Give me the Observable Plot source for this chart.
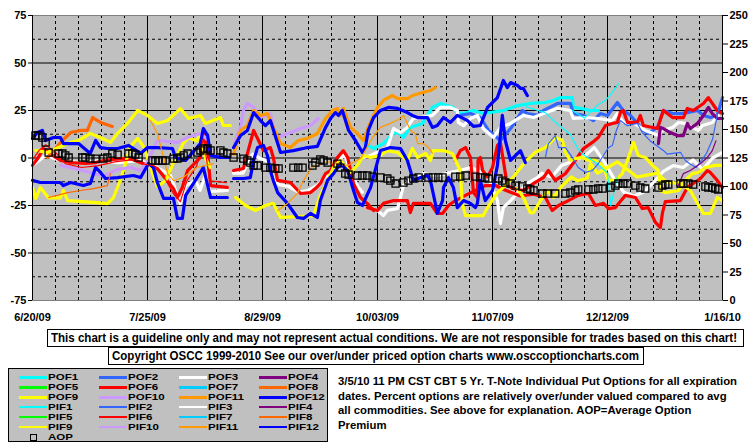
<!DOCTYPE html>
<html><head><meta charset="utf-8">
<script src="https://cdn.jsdelivr.net/npm/d3@7"></script>
<script src="https://cdn.jsdelivr.net/npm/@observablehq/plot@0.6"></script>
<style>
body{margin:0;background:#fff;}
#wrap{position:relative;width:755px;height:446px;overflow:hidden;font-family:"Liberation Sans",Arial,sans-serif;font-weight:bold;color:#000;}
#chart{position:absolute;left:0;top:0;}
.box{position:absolute;border:1px solid #000;background:#fff;box-sizing:border-box;white-space:nowrap;}
.fit{position:absolute;display:inline-block;transform-origin:0 50%;white-space:nowrap;font-size:12px;line-height:14px;}
#legend{position:absolute;left:8px;top:368px;width:320px;height:74px;background:#C0C0C0;border:1px solid #000;box-sizing:border-box;}
.sw{position:absolute;}
.lt{position:absolute;font-size:11px;line-height:12px;height:12px;transform:scale(1.05,0.78);transform-origin:0 50%;white-space:nowrap;}
</style></head>
<body>
<div id="wrap">
  <div id="chart"></div>
  <div class="box" style="left:47px;top:329px;width:697px;height:18px;"><span class="fit" data-w="686" style="left:3px;top:1px;" id="disc"></span></div>
  <div class="box" style="left:108px;top:347px;width:536px;height:18px;"><span class="fit" data-w="527" style="left:3px;top:1px;" id="copy"></span></div>
  <div id="legend"></div>
  <div id="notes"></div>
</div>
<script>
// ---------- text ----------
const disclaimer = "This chart is a guideline only and may not represent actual conditions. We are not responsible for trades based on this chart!";
const copyright = "Copyright OSCC 1999-2010 See our over/under priced option charts www.osccoptioncharts.com";
const noteLines = [
  "3/5/10 11 PM CST CBT 5 Yr. T-Note Individual Put Options for all expiration",
  "dates. Percent options are relatively over/under valued compared to avg",
  "all commodities. See above for explanation. AOP=Average Option",
  "Premium"
];

// ---------- axes ----------
const xTickLabels = ["6/20/09","7/25/09","8/29/09","10/03/09","11/07/09","12/12/09","1/16/10"];
const xTickDates = ["2009-06-20","2009-07-25","2009-08-29","2009-10-03","2009-11-07","2009-12-12","2010-01-16"];
const leftTicks = [75,50,25,0,-25,-50,-75];
const leftTickLabels = ["75","50","25","0","-25","-50","-75"];
const rightTicks = [250,225,200,175,150,125,100,75,50,25,0];

// ---------- legend ----------
const seriesKeys = ["POF1","POF2","POF3","POF4","POF5","POF6","POF7","POF8","POF9","POF10","POF11","POF12",
                    "PIF1","PIF2","PIF3","PIF4","PIF5","PIF6","PIF7","PIF8","PIF9","PIF10","PIF11","PIF12"];
const seriesColors = ["#00FFFF","#3366FF","#FFFFFF","#800080","#00FF00","#FF0000","#00CCFF","#FF6600","#FFFF00","#CC99FF","#FF9900","#0000FF"];

// ---------- data: [day since 6/20/09, % over/under] ----------
const pof12A = [[0,10.3],[1.5,13.4],[3,14.5],[4,9.2],[6.4,10.8],[8.5,10.8],[9.4,7.6],[14,7.6],[17.6,2.4],[19.2,9.2],[20.7,5.5],[22.8,5],[25.9,5],[29.2,6.6],[30.7,5],[32.9,2.4],[35,5.5],[38,5.5],[42.6,5],[43.5,0.3],[46.6,-1.3],[48.7,2.9],[51.1,7.6],[52,15.5],[53.3,11.8],[54.2,1.3],[57.2,0.3],[59.6,0.3]];
const pof12ALow = [[0,-11.8],[2.4,-12.9],[8.5,-12.9],[9.4,-14.5],[11.6,-12.9],[15.5,-14.5],[17.6,-13.4],[19.2,-5],[20.7,-7.6],[22.2,-10.8],[25.9,-10.3],[30.7,-9.2],[32.9,-10.3],[35.3,-2.9],[36.8,-5],[38,-12.9],[39.9,-21.3],[42.9,-21.3],[44.1,-31.8],[45.6,-31.8],[46.6,-19.7],[49,-13.4],[52,-5],[54.2,-20.8],[59.3,-20.8]];
const pof9A = [[1,4],[4.6,2.9],[7.9,5.5],[11.6,8.2],[14,9.2],[17.6,12.9],[20.7,10.8],[23.7,8.2],[25.9,12.9],[28.9,18.2],[32,25],[35,22.4],[38,18.2],[41.1,19.7],[45,26],[47.5,20.8],[51.1,22.4],[52.6,18.2],[57.2,21.3],[58.1,17.1],[60.2,17.1]];
const pof9ALow = [[0,-15.5],[1,-21.3],[2.4,-15.5],[4.9,-21],[8.5,-21],[9.4,-17.1],[10.7,-22.4],[18.6,-23.4],[22.8,-24],[24.6,-21],[26,-15],[27.4,-8.2],[29.8,6],[32,10.3],[34,5.5],[36.5,-8],[38,-15],[40.5,-12],[43,-2],[46,8],[47.5,10.8],[50,9],[51.1,12.9],[52.6,0],[54,-5]];
const pof6A = [[0,-3.9],[1.8,0.3],[3.3,5],[5.5,2],[8.5,-1.3],[12,-2.4],[16,-2.9],[19.2,-2.4],[21.6,-1.3],[26.8,-0.3],[29.8,-0.3],[32.9,-2.4],[38,-5.5],[42.9,-16.1],[44.1,-20.8],[45.6,-15.5],[47.2,-6.6],[51.1,0.3],[52,14.5],[53.3,2.4],[54.2,-14.5],[59.3,-15.5]];
const pif6A = [[0,-1],[2,4],[4,7],[7,3],[10,-3],[15,-5],[20,-4],[25,-2],[30,-1],[33,-3],[37,-4],[40,-10],[43,-19],[45,-23],[47,-12],[50,-4],[52,10],[54,-12],[59,-13]];
const pof3A = [[0,-3.9],[4,1.3],[8.5,-1.3],[14.6,-2.4],[20.7,-1.3],[25.9,-2.4],[32.9,-1.3],[38,-5],[42,-9.2],[44.1,-19.7],[45,-24],[46.6,-14.5],[49.6,-11.8],[51,-17],[52.6,-9.2],[54,-17.6],[59.3,-17]];
const pof10A = [[8.5,-3.9],[14,-6],[17.6,-7.6],[21.6,-9.5],[25.9,-6],[30,-5],[32.9,-6.6],[35,-2],[38,9.2],[44.1,8.2],[47.2,10.8],[51.1,12.9],[53,10]];
const pof8A = [[4.6,0.3],[7,5],[9.1,9.2],[11.6,13.4],[14.6,14.5],[16.7,14.5],[18.3,21.3],[20.7,18.7],[24.3,16.6]];
const pif8A = [[4.9,-20.8],[10.7,-18.2],[14.6,-17.1],[18.6,-16.1],[22.8,-14.5],[23.7,-8.2]];
const pif11A = [[35.9,19.7],[38,12.9],[39.9,0.3],[41.1,-8.2],[43,-12],[46,-10],[50,-5],[55,-3]];

const pof12B = [[61.2,5.5],[63.3,11.8],[65.4,14.5],[67.3,23.9],[69.4,19.7],[70.9,17.1],[72.4,19.7],[75.5,2.9],[79.4,3.9],[83.7,5.5],[86.7,6.1],[89.2,16.1],[90.7,20.8],[92.2,23.9],[93.1,22.4],[94.3,25],[96.2,14.5],[98.3,9.2],[100.4,2.9],[101.3,5.5],[102.2,14.5],[103.8,21.3],[105.9,25],[108.3,26.6],[111.1,26.1],[114.1,23.9],[115.6,22.4],[117.2,21.3],[120.2,21.3],[121.7,16.1],[123.2,17.1],[125.1,21.3],[127.2,18.7],[129.3,22.4],[132.4,19.7],[134.2,16.6],[136.3,17.1],[138.5,26.6],[141.5,31.8],[143.3,40.8],[144.5,37.1],[145.5,39.7],[147.6,38.2],[148.5,36.6],[149.4,36.6],[150.6,32.9]];
const pof11B = [[61.2,2],[63.3,14.5],[65.4,17.1],[67.3,25],[69.4,22.4],[71.5,23.4],[72.4,19.7],[75.5,7.6],[78.5,5.5],[80.9,9.2],[83.7,10.3],[86.7,12.9],[89.2,20.8],[91.3,25],[92.8,26.1],[93.7,22.4],[94.6,26.1],[96.8,16.1],[98.9,12.9],[100.7,9.2],[102.2,16.1],[103.5,21.3],[105,26.6],[106.8,30.3],[109.5,32.9],[111.1,31.3],[114.1,31.3],[115.6,32.9],[118.7,34.5],[121.1,35.5],[122.6,37.1]];
const pof10B = [[61.5,8],[63.3,16.1],[64.2,25],[65.4,28.7],[67.3,26.6],[68.5,23.4],[69.4,21.3],[72.4,23.4],[73.3,15.5],[74.6,10.8],[78.5,13.4],[81.6,15.5],[84.6,17.1],[87,20.8]];
const pof6B = [[61.2,-6.6],[64.2,-5.5],[67.3,14.5],[68.8,9.2],[70.3,3.9],[72.4,5.5],[73.3,0.3],[74.6,-11.8],[78.5,-12.9],[81.6,-18.7],[84.6,-18.2],[86.1,-16.1],[87.6,-13.4],[89.2,-8.2],[90.7,-6.6],[92.8,0.3],[94.6,3.9],[95.9,0.3],[97.7,-13.4],[99.8,-20.8],[101.9,-23.9],[103.8,-27.6]];
const pof3B = [[61.2,-8],[64,-8],[67,2],[69,0],[72,-2],[73.5,-12],[75,-14],[78,-15],[81,-18],[84,-17],[87,-14],[89,-10],[91,-8],[93,-2],[95,2],[97,-8],[99,-15],[100.4,-18]];
const pof9B = [[61.8,-20.8],[64.8,-25],[67.9,-27.6],[70.9,-25],[73.3,-23.9],[75.5,-31.3],[81.6,-30.8],[85.5,-30.3],[87.6,-19.7],[89.8,-11.8],[91.6,-5],[93.7,-1.3],[96.8,-7.6],[98.9,-3.9],[100.7,1.3],[102.9,0.3],[105.9,1.3],[108,3.9],[111.1,2.9],[112.9,0.3],[114.1,-1.3],[115.6,5],[117.2,0.3],[119.6,2.4],[121.1,-1.3],[122,3.9],[125.1,3.9],[127.8,2.4],[130.2,-6.6],[130.8,-23.9],[131.8,-30.3],[137.2,-30.3],[138.5,-26.1],[141.5,-18.2],[143.9,-14.5],[146.7,-9.2],[150,-2],[153,3],[156.1,5.5],[159.1,10.8],[161.3,9.2],[162.2,2.9],[163.7,-1.3],[165.2,-0.3],[167.4,0.3],[169.2,-1.3],[171.3,-1.3],[173.5,-3.9],[175.3,-11.8],[177.4,-11.8],[179.5,-8.2],[181.4,0.3],[182.9,8.2],[184.4,1.3],[186.5,0.3],[188.7,-3.9],[190.5,-6.6],[191.1,-17.1],[192.6,-18.2],[196.6,-17.1],[198.7,-11.8],[200.8,-8.2],[202.7,-7.6],[204.8,-5],[207.8,-3.9],[210,-3.9]];
const pof12BLow = [[61.2,-10.8],[64.2,-10.8],[66.3,-10.3],[67.3,-1.3],[68.5,5.5],[70.3,6.6],[71.5,1.3],[72.4,-6.6],[73.3,-11.8],[74.6,-18.2],[77.6,-23.9],[80.6,-31.3],[82.5,-31.8],[84.6,-29.2],[86.7,-31.3],[87.6,-22.4],[89.8,-11.8],[91.6,-8.2],[93.7,-2.9],[95.9,-6.6],[97.7,-17.1],[98.9,-23.4],[100.4,-25],[102.9,-15.5],[105.9,3.9],[108.9,5.5],[112,5],[114.1,-1.3],[115.9,-11.8],[118.1,-10.3],[120.2,-9.2],[121.1,-11.8],[122.6,-23.9],[123.2,-29.2],[124.8,-22.4],[125.1,-15.5],[126.6,-10.3],[128.1,-15.5],[129.3,-26.1],[131.2,-22.4],[133.3,-23.9],[134.8,-26.1],[135.4,-23.9],[136.3,-11.8],[137.8,-22.4],[140,-17.1],[141.5,-3.9],[143,22.4],[143.9,9.2],[145.5,-1.3],[148.5,3.9],[150,-2.4]];
const pif11B = [[74.6,-27.6],[77.6,-23.9],[80.6,-18.7],[82.5,-11.8],[85,-5],[90,-2],[96,-4],[100,0],[103.5,10.8],[105.9,16.1],[108.9,18.2],[112,20.8],[112.9,22.4],[114.1,18.2],[115,14.5],[116.5,12.9],[117.2,7.6],[119,7.6],[120.5,5.5],[121.7,2.4]];

const pof6C = [[101.9,-26.1],[105,-27.6],[106.8,-23.9],[109.9,-22.4],[114.1,-22.4],[115,-28.7],[115.9,-23.9],[121.1,-23.9],[123.2,-29.2],[124.8,-29.2],[126.6,-25],[128.7,-22.4],[131.8,-19.7],[134.8,-17.1],[137.8,-14.5],[140.9,-14.5],[144,-17],[148.5,-20],[152.5,-19],[156.1,-20.8],[158.2,-27.6],[160.1,-25],[163.1,-22.4],[166.1,-19.7],[169.2,-18.7],[171.3,-25],[173.8,-23.9],[175.3,-26.6],[177.4,-26.1],[180.4,-19.7],[183.5,-20.8],[185.6,-26.6],[187.4,-26.1],[189.6,-33.9],[191.1,-36.6],[191.7,-29.2],[192.6,-23],[197.2,-22.4],[199.3,-15.5],[201.1,-13.4],[203.3,-10.8],[205.4,-6.6],[206.3,-7.6],[208.4,-11.8],[210,-15.5]];
const pof6D = [[128.7,-1.3],[130.2,3.9],[131.8,5.5],[133.3,0.3],[134.2,-18.2],[135.4,-20.8],[135.6,-1.3],[136.3,0.3],[137,-6.6],[138.5,-10],[140,-5],[141.5,6.6],[142.4,8.2],[143.3,-1.3],[144.5,-14.5],[146.4,-16.1],[149.4,-17.1],[152.5,-13.4],[155.5,-10.3],[157,-6.6],[159.1,-11.8],[162.2,-8.2],[165.2,-1.3],[167.7,5],[170.4,8.2],[172.2,10.8],[174.4,17.1],[176.5,18.2],[178,18.7],[178.9,23.9],[179.8,25],[181.1,18.7],[184.1,18.7],[185,22.4],[185.9,17.1],[190.2,15.5],[192,25],[194.8,21.3],[198.1,21.3],[199.3,26.1],[201.1,25],[204.2,28.7],[205.7,31.8],[208.4,25],[210,23.4]];
const pof1C = [[101.3,7.6],[103.8,5],[106.8,7.6],[109.9,12.9],[111.4,13.4],[112.9,10.8],[115,16.1],[118.7,18.2],[121.7,26.6],[124.2,28.7],[128.1,26.6],[129.3,23.9],[131.2,23.4],[134.2,25],[137.2,23.4],[143.3,25],[147.6,27.6],[151.5,28.7],[156.1,29.2],[158.5,30.3],[160.7,31.8],[164.3,31.8],[164.6,26.6],[166.8,26.1],[169.8,25],[172.2,25]];
const pif1D = [[164.3,25],[168,21],[172.2,28.2],[174.4,30.3],[176.5,34.5],[178.3,39.2]];
const pif1C = [[150,27],[156.1,23.9],[158.2,20.3],[160.7,16.6],[163.7,12.4],[165.8,5.5],[167.4,2],[172,-3],[175,-8],[176,-25],[178,-10]];
const pof2D = [[130.2,22.4],[133.3,23.4],[136.3,21.3],[138.8,14.5],[142.4,9.2],[145.5,15.5],[149.1,25],[150.6,23.4],[153.7,22.4],[155.5,25],[159.8,28.7],[163.7,28.7],[164.6,23.4],[167.7,22.4],[170.7,19.7],[172.8,23.4],[175,22.4],[178,29.2],[179.8,25],[182,22.4],[184.1,18.2],[185.9,14.5],[187.4,12.9],[190.2,16.1],[192,25],[194.8,23.4],[197.2,23.4],[199.3,23.9],[202.4,25],[204.2,22.4],[206.3,21.3],[208.4,22.4],[210,31.8]];
const pif2D = [[156.1,0.3],[157,7.6],[159.1,11.8],[160.1,5.5],[162.2,5.5],[164.3,0.3],[166.1,-5],[168.3,-7.6],[170.4,-6.6],[172.2,-2.9],[175.3,5.5],[176.5,6.6],[177.7,14.5],[178.9,19.7],[181,17],[184.1,18.2],[185.6,13.4],[188,9],[192,4],[193.2,2],[197.2,3],[198.7,-1.3],[200,-3],[202,-5],[205,2],[207,10],[208.7,25],[210,31]];
const pof3C = [[100.7,0.3],[102.9,1.3],[105.9,3.9],[108,5.5],[109.9,15.5],[112,13.4],[114.1,16.1],[115.9,20.8],[118.1,21.3],[121.7,22.4],[124.2,26.6],[127.2,26.6],[129.3,25],[129.6,18.7],[131.2,17.1],[133.3,20.8],[135.4,22.4],[137.2,15.5],[140.3,10.8],[142.4,16.1],[145.5,18.2],[149.4,22.4],[152.5,21.3],[155.5,23.4],[159.8,26.1],[163.7,25],[164.6,20.8],[168.3,21.3],[172.2,20.8],[176.5,19.7],[178,23.4],[179.8,18.7],[182.6,18.7],[186.5,14.5],[190.5,11.8],[191.7,14.5],[194.8,16.1],[196.6,18.7],[198.7,18.2],[200.8,16.1],[202.7,14.5],[203.9,17.1],[206.9,18.7],[208.7,22.4]];
const pof3CLow = [[101.9,-26.1],[105,-27.6],[106.8,-30.3],[108,-27.6],[111.1,-26.6],[112.9,-14.5],[115.9,-10.3],[119,-8.2],[123.2,-9.2],[127.2,-7.6],[130.2,-6.6],[133.3,-5],[135.4,-6.6],[138.5,-9.2],[141.5,-22.4],[142.4,-34.5],[143.3,-26.1],[145.5,-22.4],[148.5,-17.1],[150.6,-13.4],[153.7,-10.3],[155,-8],[158,-10],[161,-4],[164,-2],[168,1],[171,5.5],[174,-2],[177,-11],[180,-18],[183,-20],[186,-18],[189,-13],[192,-7],[195,-4],[198,-5],[201,-1],[204,-6],[207,0],[210,3]];
const pof9DLow = [[147.6,-16.1],[149.4,-20.8],[151.5,-28.7],[152.5,-28.7],[154.6,-22.4],[156.7,-17.1],[158.5,-20.8],[161,-15],[164,-10],[166,-12],[168.9,-10.5],[169.8,-2.9],[172,-8],[175,-5],[178,-2],[181,-6],[184,-10],[187,-9],[190,-8],[193.2,-12.9],[197.2,-13.4],[200.2,-17.1],[202.4,-23.9],[204.2,-29.2],[206.3,-29.2],[208.4,-20.8],[210,-22.4]];
const pof4D = [[190.5,7.6],[191.1,16.1],[192,15.5],[194.1,13.4],[196.3,11.8],[198.1,11.8],[199.3,18.2],[200.2,15.5],[202.4,18.2],[204.2,22.4],[205.7,26.6],[206.9,23.4],[208.4,20.8],[210,20.8]];
const pif4D = [[196.3,-15.5],[198.1,-8.2],[200.2,-6.6],[203.3,-2.9],[205.4,0.3],[206.9,3.9],[208,9]];

// AOP: [day, premium on right-hand scale]
const aop = [[0.9,144.7],[1.8,144.7],[3,143],[4,138.6],[4.9,129.8],[7.9,128.9],[9.1,128.9],[10,127.2],[11,125.4],[15.2,125.4],[16.1,125.4],[17.6,124.5],[19.2,124.5],[21.6,124.5],[22.8,125.4],[24.3,128.9],[25.9,128],[29.2,128.9],[30.4,128.9],[31.3,128],[32.3,125.4],[36.5,122.8],[37.4,122.8],[38.3,122.8],[39.6,122.8],[40.5,122.8],[42.9,124.5],[44.1,124.5],[45,125.4],[46,127.2],[47.2,128.9],[50.2,129.8],[51.1,131.6],[52,133.3],[53.3,133.3],[54.2,131.6],[57.2,131.6],[58.1,129.8],[59.3,128.9],[61.2,125.4],[64.2,124.5],[65.4,122.8],[66.3,121],[67.3,118.4],[68.5,118.4],[70.9,116.6],[72.4,116.6],[73.9,115.8],[74.9,115.8],[79.4,116.6],[80.9,116.6],[82.2,116.6],[85.2,118.4],[86.1,121],[87.6,123.7],[88.6,122.8],[89.8,121],[92.8,120.1],[93.7,116.6],[95.2,111.4],[96.2,110.5],[98.9,109.6],[100.4,109.6],[101.9,109.6],[103.5,108.7],[105.9,107.9],[108,107],[108.9,105.2],[110.5,102.6],[112.9,103.5],[114.4,105.2],[115.9,107],[117.5,107.9],[120.5,107.9],[122,107.9],[123.5,107.9],[124.8,107.9],[128.7,108.7],[130.2,108.7],[131.8,109.6],[134.8,108.7],[136.3,107.9],[137.8,107.9],[138.8,107],[141.8,107],[143,105.2],[143.9,103.5],[145.5,102.6],[147,100.8],[149.1,100],[150.6,98.2],[151.5,97.4],[152.5,96.5],[155.2,93.8],[156.7,93.8],[159.1,93.8],[162.2,93.8],[163.7,94.7],[165.2,96.5],[166.1,97.4],[169.2,97.4],[170.7,97.4],[172.2,98.2],[173.5,98.2],[175.9,99.1],[177.4,100.8],[178.3,102.6],[179.8,102.6],[181.1,102.6],[183.5,100.8],[185,99.1],[186.5,98.2],[190.5,99.1],[191.7,100.8],[192.6,101.7],[193.5,101.7],[197.2,102.6],[198.1,102.6],[199.6,102.6],[201.1,101.7],[204.8,100],[205.7,99.1],[206.9,99.1],[207.8,98.2],[208.7,97.4]];

// which legend series each traced segment belongs to
const traces = [
  ["POF1", pof1C], ["POF2", pof2D], ["POF3", pof3A], ["POF3", pof3B], ["POF3", pof3C], ["POF3", pof3CLow],
  ["POF4", pof4D], ["POF6", pof6A], ["POF6", pof6B], ["POF6", pof6C], ["POF6", pof6D],
  ["POF8", pof8A], ["POF9", pof9A], ["POF9", pof9ALow], ["POF9", pof9B], ["POF9", pof9DLow],
  ["POF10", pof10A], ["POF10", pof10B], ["POF11", pof11B],
  ["POF12", pof12A], ["POF12", pof12ALow], ["POF12", pof12B], ["POF12", pof12BLow],
  ["PIF1", pif1C], ["PIF1", pif1D], ["PIF2", pif2D], ["PIF4", pif4D], ["PIF6", pif6A],
  ["PIF8", pif8A], ["PIF11", pif11A], ["PIF11", pif11B]
];

// ---------- helpers ----------
const base = new Date(xTickDates[0]);
const toDate = d => new Date(+base + d * 864e5);
const tickDates = xTickDates.map(s => new Date(s));
const rightToLeft = r => r * 3 / 5 - 75;
const colorOf = k => seriesColors[(+k.replace(/\D/g, "")) - 1];
const isThick = k => k.startsWith("POF");

const span = Math.round((tickDates[6] - tickDates[0]) / 864e5);
const minorX = d3.range(7, span, 7).filter(d => d % 35 !== 0).map(toDate);
const majorX = tickDates.slice(1, -1);
const majorY = [50, 25, 0, -25, -50];
const minorY = [62.5, 37.5, 12.5, -12.5, -37.5, -62.5];

const ordered = traces.slice().sort((a, b) => seriesKeys.indexOf(a[0]) - seriesKeys.indexOf(b[0]));
const lineMarks = ordered.map(([k, data]) => Plot.line(data, {
  x: d => toDate(d[0]), y: d => d[1],
  stroke: colorOf(k), strokeWidth: isThick(k) ? 3.2 : 1.2, strokeLinejoin: "round", strokeLinecap: "round"
}));

const chart = Plot.plot({
  width: 755, height: 326,
  marginLeft: 32, marginRight: 33, marginTop: 15, marginBottom: 26,
  style: {fontFamily: "'Liberation Sans', Arial, sans-serif", fontSize: "11px", fontWeight: "bold", background: "transparent", color: "#000"},
  x: {type: "utc", domain: [tickDates[0], tickDates[6]]},
  y: {domain: [-75, 75]},
  marks: [
    Plot.frame({fill: "#C0C0C0", stroke: null}),
    Plot.ruleY(minorY, {stroke: "#000", strokeWidth: 1, strokeDasharray: "3,3"}),
    Plot.ruleX(minorX, {stroke: "#000", strokeWidth: 1, strokeDasharray: "3,3"}),
    Plot.ruleY(majorY, {stroke: "#000", strokeWidth: 1}),
    Plot.ruleX(majorX, {stroke: "#000", strokeWidth: 1}),
    ...lineMarks,
    Plot.dot(aop, {x: d => toDate(d[0]), y: d => rightToLeft(d[1]), symbol: "square", r: 4, stroke: "#000", strokeWidth: 1.3, fill: "none"}),
    Plot.frame({stroke: "#808080"}),
    Plot.ruleX([tickDates[0], tickDates[6]], {stroke: "#000", strokeWidth: 1}),
    Plot.axisY({ticks: leftTicks, tickFormat: d => leftTickLabels[leftTicks.indexOf(d)], tickSize: 4, tickPadding: 2, label: null}),
    Plot.axisY({anchor: "right", ticks: rightTicks.map(rightToLeft), tickFormat: d => String(rightTicks[rightTicks.map(rightToLeft).findIndex(v => Math.abs(v - d) < 1e-6)]), tickSize: 5, tickPadding: 2, label: null}),
    Plot.axisX({ticks: tickDates, tickFormat: d => xTickLabels[tickDates.findIndex(t => +t === +d)], tickSize: 0, tickPadding: 13, label: null})
  ]
});
document.getElementById("chart").appendChild(chart);

// ---------- boxes ----------
document.getElementById("disc").textContent = disclaimer;
document.getElementById("copy").textContent = copyright;

// ---------- legend ----------
const legend = document.getElementById("legend");
const colSw = [10, 90, 170, 250], colTx = [39, 119, 199, 279];
seriesKeys.forEach((k, i) => {
  const r = Math.floor(i / 4), c = i % 4;
  const cy = 8 + r * 10;
  const th = isThick(k) ? 3 : 2;
  const sw = document.createElement("div");
  sw.className = "sw";
  sw.style.cssText = `left:${colSw[c]}px;top:${cy - th / 2}px;width:28px;height:${th}px;background:${colorOf(k)};`;
  legend.appendChild(sw);
  const t = document.createElement("div");
  t.className = "lt";
  t.style.cssText = `left:${colTx[c]}px;top:${cy - 6}px;`;
  t.textContent = k;
  legend.appendChild(t);
});
{
  const cy = 8 + 6 * 10;
  const sq = document.createElement("div");
  sq.className = "sw";
  sq.style.cssText = `left:21px;top:${cy - 3}px;width:5px;height:5px;border:1px solid #000;`;
  legend.appendChild(sq);
  const t = document.createElement("div");
  t.className = "lt";
  t.style.cssText = `left:39px;top:${cy - 6}px;`;
  t.textContent = "AOP";
  legend.appendChild(t);
}

// ---------- notes ----------
const notes = document.getElementById("notes");
const noteTops = [374, 389, 403, 418];
const noteEls = noteLines.map((s, i) => {
  const d = document.createElement("span");
  d.className = "fit";
  d.style.cssText = `left:338px;top:${noteTops[i]}px;font-size:11px;`;
  d.textContent = s;
  notes.appendChild(d);
  return d;
});
// first note line spans 399px in the reference; use the same squeeze for all lines
const noteScale = 399 / noteEls[0].getBoundingClientRect().width;
noteEls.forEach(el => { el.style.transform = `scaleX(${noteScale})`; });

// fit the boxed strings to their frames
document.querySelectorAll(".box .fit").forEach(el => {
  const w = el.getBoundingClientRect().width;
  const target = +el.dataset.w;
  if (w > 0 && target) el.style.transform = `scaleX(${target / w})`;
});
</script>
</body></html>
